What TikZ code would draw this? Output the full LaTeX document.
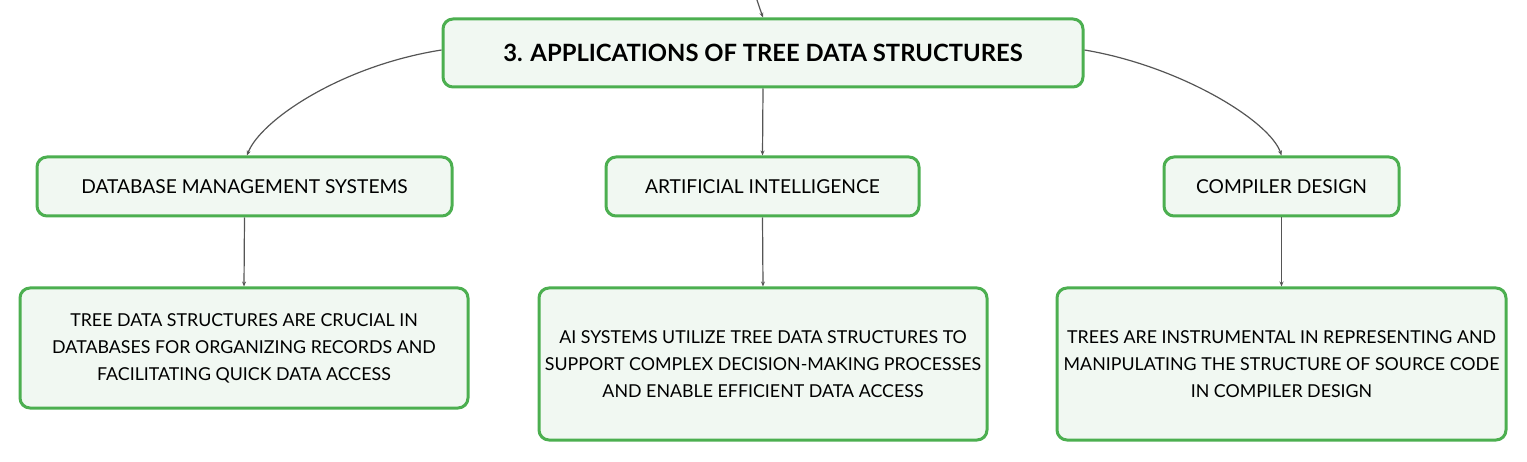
\documentclass[tikz,border=0pt]{standalone}
\usepackage{fontspec}
\setmainfont{Lato}
\usetikzlibrary{arrows.meta}
\definecolor{boxgreen}{HTML}{4CAF50}
\definecolor{boxfill}{HTML}{F1F8F2}
\definecolor{linkgray}{HTML}{555555}
\tikzset{
  box/.style={draw=boxgreen, fill=boxfill, line width=3pt, rounded corners=10pt, inner sep=0pt, align=center, text=black},
  titlebox/.style={box, font=\fontsize{23.8}{28}\selectfont\bfseries},
  headbox/.style={box, font=\fontsize{19.2}{22}\selectfont},
  descbox/.style={box, font=\fontsize{17.8}{27}\selectfont},
  link/.style={draw=linkgray, line width=1.2pt, -{Stealth[length=5pt,width=4pt]}},
}
\begin{document}
\begin{tikzpicture}[x=1pt,y=1pt]
\useasboundingbox (0,0) rectangle (1527,461);
\node[titlebox, minimum width=640pt, minimum height=68pt] (title) at (763,408) {3. APPLICATIONS OF TREE DATA STRUCTURES};
\node[headbox, minimum width=415pt, minimum height=59pt] (dms) at (244.5,274.5) {DATABASE MANAGEMENT SYSTEMS};
\node[headbox, minimum width=313pt, minimum height=59pt] (ai) at (762.5,274.5) {ARTIFICIAL INTELLIGENCE};
\node[headbox, minimum width=235pt, minimum height=59pt] (cd) at (1281.5,274.5) {COMPILER DESIGN};
\node[descbox, minimum width=448pt, minimum height=120pt] (d1) at (244,113) {TREE DATA STRUCTURES ARE CRUCIAL IN\\DATABASES FOR ORGANIZING RECORDS AND\\FACILITATING QUICK DATA ACCESS};
\node[descbox, minimum width=448pt, minimum height=152pt] (d2) at (763,97) {AI SYSTEMS UTILIZE TREE DATA STRUCTURES TO\\SUPPORT COMPLEX DECISION-MAKING PROCESSES\\AND ENABLE EFFICIENT DATA ACCESS};
\node[descbox, minimum width=449pt, minimum height=152pt] (d3) at (1281.5,97) {TREES ARE INSTRUMENTAL IN REPRESENTING AND\\MANIPULATING THE STRUCTURE OF SOURCE CODE\\IN COMPILER DESIGN};
\coordinate (in) at (757,461);
\draw[link] (in) .. controls (760,452) .. (title.north);
\draw[link] ([yshift=3pt]title.west) .. controls (340,395) and (260,340) .. ([xshift=2.5pt]dms.north);
\draw[link] ([yshift=3pt]title.east) .. controls (1180,395) and (1270,340) .. (cd.north);
\draw[link] (title.south) -- (ai.north);
\draw[link] (dms.south) -- (d1.north);
\draw[link] (ai.south) -- (d2.north);
\draw[link] (cd.south) -- (d3.north);
\end{tikzpicture}
\end{document}
